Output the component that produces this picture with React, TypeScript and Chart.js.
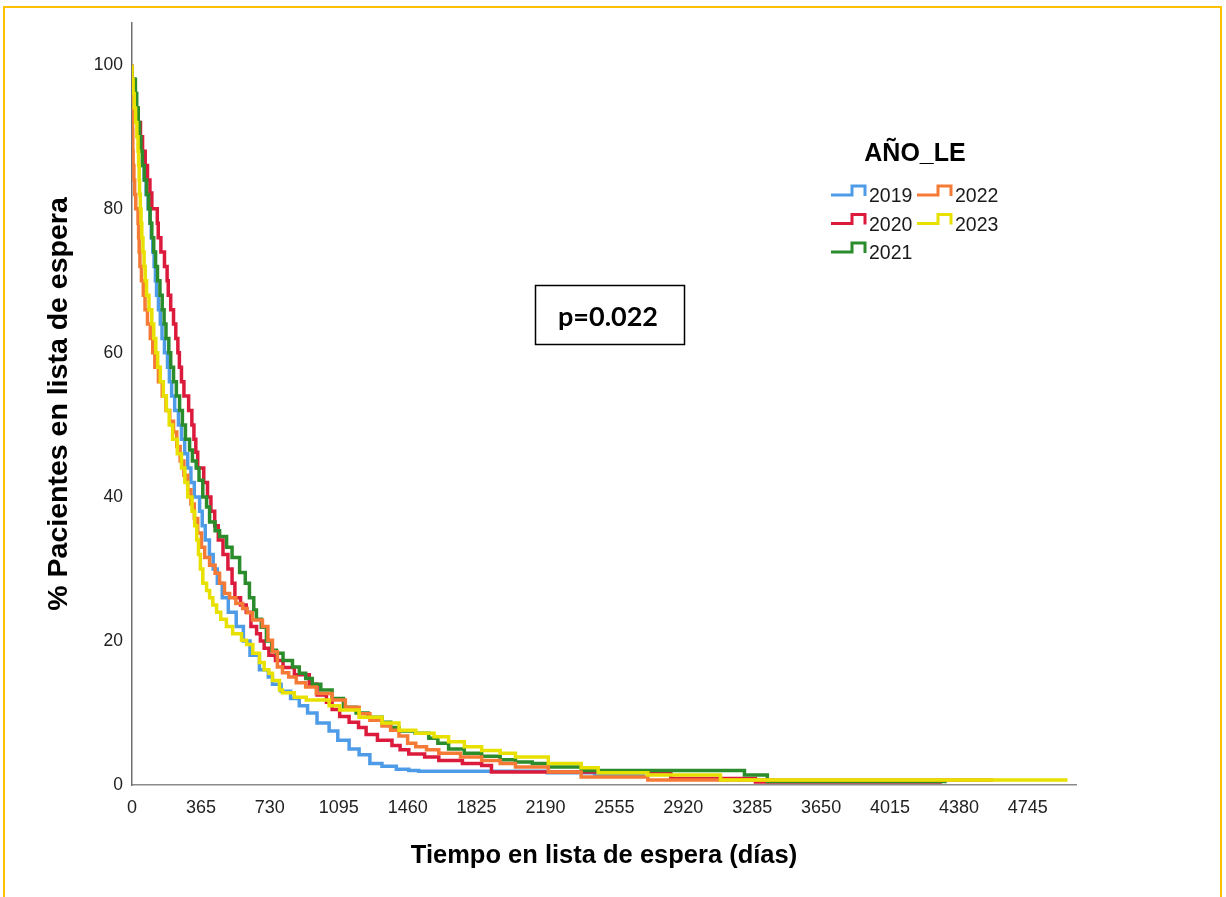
import React, { useEffect, useRef } from 'react';
import { Chart, registerables } from 'chart.js';

Chart.register(...registerables);

const FONT = "'Liberation Sans', Arial, sans-serif";

const years = ['2019', '2020', '2021', '2022', '2023'];
const colors = ['#4E9CE8', '#DC1A3C', '#2B8C2B', '#F57A35', '#E8E100'];

const t2019 = [0, 8, 18, 28, 37, 46, 56, 65, 75, 85, 95, 102, 110, 117, 124, 130, 140, 150, 159, 172, 188, 198, 210, 226, 246, 262, 279, 295, 312, 330, 358, 372, 388, 410, 430, 452, 478, 510, 552, 590, 625, 675, 722, 744, 790, 840, 886, 930, 980, 1044, 1090, 1150, 1203, 1260, 1324, 1400, 1466, 1519, 2200, 2450, 2717];
const s2019 = [100, 98, 96, 94, 92, 90, 88, 86, 84, 82, 80, 78, 76, 74, 72, 70, 68, 66, 64, 62, 60, 58, 56, 54, 52, 50, 48, 46, 44, 42, 40, 38, 36, 34, 32, 30, 28, 26, 24, 22, 20, 18, 16, 15, 14, 13, 12, 11, 10, 8.6, 7.5, 6.2, 5, 4.2, 3, 2.6, 2.2, 2, 1.9, 1.7, 1.4];

const t2020 = [0, 10, 20, 32, 45, 56, 70, 82, 95, 105, 134, 139, 153, 172, 186, 192, 205, 220, 232, 243, 251, 262, 275, 300, 317, 328, 338, 348, 380, 400, 418, 438, 457, 482, 508, 530, 545, 575, 605, 630, 660, 680, 700, 725, 760, 800, 860, 939, 980, 1030, 1060, 1100, 1150, 1200, 1240, 1300, 1377, 1420, 1466, 1550, 1625, 1750, 1852, 1904, 2854, 3302, 4200, 4290];
const s2020 = [100, 98, 96, 94, 92, 90, 88, 86, 84, 82.2, 80, 78, 76, 74, 72, 70, 68, 66, 64, 62, 60, 58, 56, 54, 52, 50, 48, 46.2, 44, 42, 40, 38, 36, 34, 32, 30, 28, 26, 25, 24, 22, 21, 20, 19, 18, 17.3, 16.3, 15.3, 14, 12.5, 11.5, 10.5, 9.5, 8.7, 8, 7, 6.2, 5.5, 4.9, 4.3, 3.9, 3.4, 3, 2.7, 1.8, 0.9, 0.4, 0.4];

const t2021 = [0, 18, 25, 33, 40, 47, 55, 65, 77, 88, 96, 105, 115, 125, 135, 148, 160, 170, 180, 195, 205, 220, 235, 252, 267, 283, 305, 320, 340, 355, 375, 395, 411, 440, 464, 501, 530, 570, 600, 622, 645, 659, 685, 712, 740, 765, 800, 850, 886, 920, 955, 1000, 1060, 1120, 1187, 1250, 1324, 1370, 1414, 1500, 1572, 1620, 1677, 1760, 1852, 1950, 2031, 2120, 2205, 2379, 3244, 3365, 4209, 4315];
const s2021 = [100, 98, 96, 94, 92, 90, 88, 86, 84, 82, 80, 78, 76, 74, 72, 70, 68, 66, 64, 62, 60, 58, 56, 54, 52, 50, 48, 46.5, 45, 44, 42.3, 40, 38.6, 36.5, 35.3, 34.5, 33, 31.6, 29.5, 28, 26, 24.3, 23, 21.9, 20, 18.7, 18.3, 17.3, 16.4, 15.5, 14.8, 14, 13.2, 12, 10.8, 10, 9.4, 8.7, 8, 7.5, 7.2, 6.5, 5.8, 5, 4.4, 4, 3.5, 3.2, 3, 2.5, 2, 1.4, 0.5, 0.5];

const t2022 = [0, 2, 3, 4, 6, 10, 14, 20, 32, 35, 38, 42, 50, 60, 69, 82, 97, 110, 121, 140, 160, 180, 200, 220, 237, 255, 275, 295, 312, 330, 348, 368, 385, 411, 440, 464, 490, 517, 550, 586, 610, 638, 691, 720, 744, 770, 797, 830, 870, 920, 976, 1060, 1130, 1203, 1260, 1324, 1370, 1414, 1460, 1503, 1560, 1625, 1740, 1852, 1950, 2031, 2205, 2379, 2732, 3091, 4563];
const s2022 = [100, 97, 94, 91, 88, 86, 84, 82, 80, 78, 76, 74, 72, 70, 68, 66, 64, 62, 60, 58, 56, 54, 52, 50.5, 49, 47, 45, 43, 41, 39, 37, 35, 33, 31.6, 30.5, 29.4, 28, 26.6, 26, 25.2, 24.5, 23.9, 22.9, 22, 20.1, 18.5, 16.4, 15.6, 15, 14.2, 13.6, 12.7, 11.8, 10.8, 9.9, 9, 8.2, 7.6, 6.8, 5.8, 5.3, 4.9, 4.4, 3.9, 3.4, 3, 2.5, 1.8, 1.1, 0.7, 0.7];

const t2023 = [0, 6, 12, 19, 26, 32, 35, 38, 40, 44, 48, 52, 58, 64, 70, 77, 90, 105, 115, 126, 136, 150, 166, 182, 197, 215, 240, 262, 280, 295, 318, 332, 343, 352, 362, 375, 395, 411, 428, 448, 470, 500, 533, 580, 607, 640, 675, 700, 725, 744, 781, 797, 860, 923, 1044, 1100, 1203, 1324, 1414, 1503, 1600, 1677, 1760, 1852, 1950, 2031, 2205, 2379, 2469, 2732, 3117, 4563, 4955];
const s2023 = [100, 98, 96, 94, 92, 90, 88, 86, 84, 82, 80, 78, 76, 74, 72, 70, 68, 66, 64, 62, 60, 58, 56, 54, 52, 50, 48, 46, 44, 42, 40, 38, 36, 34, 32, 30, 28, 27, 26, 25, 24, 23, 22, 21, 20.1, 19.5, 18.3, 17, 16, 15.5, 14.5, 13.2, 12.8, 12.2, 11.8, 11, 10.4, 9.4, 8.6, 7.6, 7.2, 6.7, 6, 5.3, 4.8, 4.4, 3.9, 3, 2.4, 1.7, 1.4, 0.7, 0.7];

const times = [t2019, t2020, t2021, t2022, t2023];
const survival = [s2019, s2020, s2021, s2022, s2023];

const xTicks = [0, 365, 730, 1095, 1460, 1825, 2190, 2555, 2920, 3285, 3650, 4015, 4380, 4745];
const yTicks = [0, 20, 40, 60, 80, 100];
const xMax = 5000;
const yMax = 105.8;

const xTitle = 'Tiempo en lista de espera (días)';
const yTitle = '% Pacientes en lista de espera';
const legendTitle = 'AÑO_LE';
const pValueText = 'p=0.022';

const overlayPlugin = {
  id: 'kmOverlay',
  afterDraw(chart: any) {
    const ctx = chart.ctx as CanvasRenderingContext2D;
    ctx.save();
    ctx.fillStyle = '#000';
    ctx.textAlign = 'center';
    ctx.textBaseline = 'alphabetic';
    ctx.font = `bold 25px ${FONT}`;
    ctx.fillText(legendTitle, 915, 161);

    const colX = [831, 917];
    const rowBase = [202, 230.5, 259];
    ctx.textAlign = 'left';
    ctx.font = `19.5px ${FONT}`;
    years.forEach((yr, i) => {
      const col = Math.floor(i / 3);
      const row = i % 3;
      const x = colX[col];
      const b = rowBase[row];
      ctx.strokeStyle = colors[i];
      ctx.lineWidth = 3;
      ctx.lineJoin = 'miter';
      ctx.beginPath();
      ctx.moveTo(x, b - 7);
      ctx.lineTo(x + 21, b - 7);
      ctx.lineTo(x + 21, b - 16);
      ctx.lineTo(x + 34, b - 16);
      ctx.lineTo(x + 34, b - 6);
      ctx.stroke();
      ctx.fillStyle = '#1a1a1a';
      ctx.fillText(yr, x + 38, b);
    });

    ctx.strokeStyle = '#000';
    ctx.lineWidth = 1.5;
    ctx.strokeRect(535.5, 285.5, 149, 59);
    ctx.fillStyle = '#000';
    ctx.font = `bold 27px Lato, 'Open Sans', sans-serif`;
    ctx.textAlign = 'center';
    ctx.textBaseline = 'middle';
    ctx.fillText(pValueText, 608, 317);
    ctx.restore();
  },
};

export default function App() {
  const ref = useRef<HTMLCanvasElement>(null);
  useEffect(() => {
    if (!ref.current) return;
    const datasets = years.map((yr, i) => ({
      label: yr,
      data: times[i].map((t, j) => ({ x: t, y: survival[i][j] })),
      borderColor: colors[i],
      backgroundColor: colors[i],
      borderWidth: 3.5,
      pointRadius: 0,
      fill: false,
      stepped: 'after' as const,
      order: years.length - i,
    }));
    const chart = new Chart(ref.current, {
      type: 'line',
      data: { datasets },
      options: {
        animation: false,
        responsive: false,
        maintainAspectRatio: false,
        layout: { padding: { left: 0, top: 23, right: 150, bottom: 0 } },
        plugins: { legend: { display: false }, tooltip: { enabled: false } },
        scales: {
          x: {
            type: 'linear',
            min: 0,
            max: xMax,
            afterBuildTicks: (s: any) => {
              s.ticks = xTicks.map((v) => ({ value: v }));
            },
            afterFit: (s: any) => {
              s.height = 112;
            },
            grid: { display: false, drawTicks: false },
            border: { display: true, color: '#8a8a8a', width: 1.5 },
            ticks: {
              padding: 12,
              color: '#222',
              autoSkip: false,
              maxRotation: 0,
              font: { size: 18, family: FONT },
              callback: (v: any) => String(v),
            },
            title: {
              display: true,
              text: xTitle,
              color: '#000',
              font: { size: 25.5, weight: 'bold', family: FONT },
              padding: { top: 0, bottom: 26 },
            },
          },
          y: {
            type: 'linear',
            min: 0,
            max: yMax,
            afterBuildTicks: (s: any) => {
              s.ticks = yTicks.map((v) => ({ value: v }));
            },
            afterFit: (s: any) => {
              s.width = 132;
            },
            grid: { display: false, drawTicks: false },
            border: { display: true, color: '#707070', width: 1.5 },
            ticks: {
              padding: 9,
              color: '#222',
              font: { size: 17.5, family: FONT },
              callback: (v: any) => String(v),
            },
            title: {
              display: true,
              text: yTitle,
              color: '#000',
              font: { size: 28.5, weight: 'bold', family: FONT },
              padding: { top: 42, bottom: 0 },
            },
          },
        },
      },
      plugins: [overlayPlugin],
    });
    return () => chart.destroy();
  }, []);

  return (
    <div style={{ position: 'absolute', left: 0, top: 0, width: 1226, height: 897, overflow: 'hidden', background: '#fff' }}>
      <div
        style={{
          position: 'absolute',
          left: 3,
          top: 6,
          width: 1219,
          height: 960,
          border: '2px solid #FFC000',
          boxSizing: 'border-box',
        }}
      />
      <canvas
        ref={ref}
        width={1226}
        height={897}
        style={{ position: 'absolute', left: 0, top: 0, width: 1226, height: 897 }}
      />
    </div>
  );
}
